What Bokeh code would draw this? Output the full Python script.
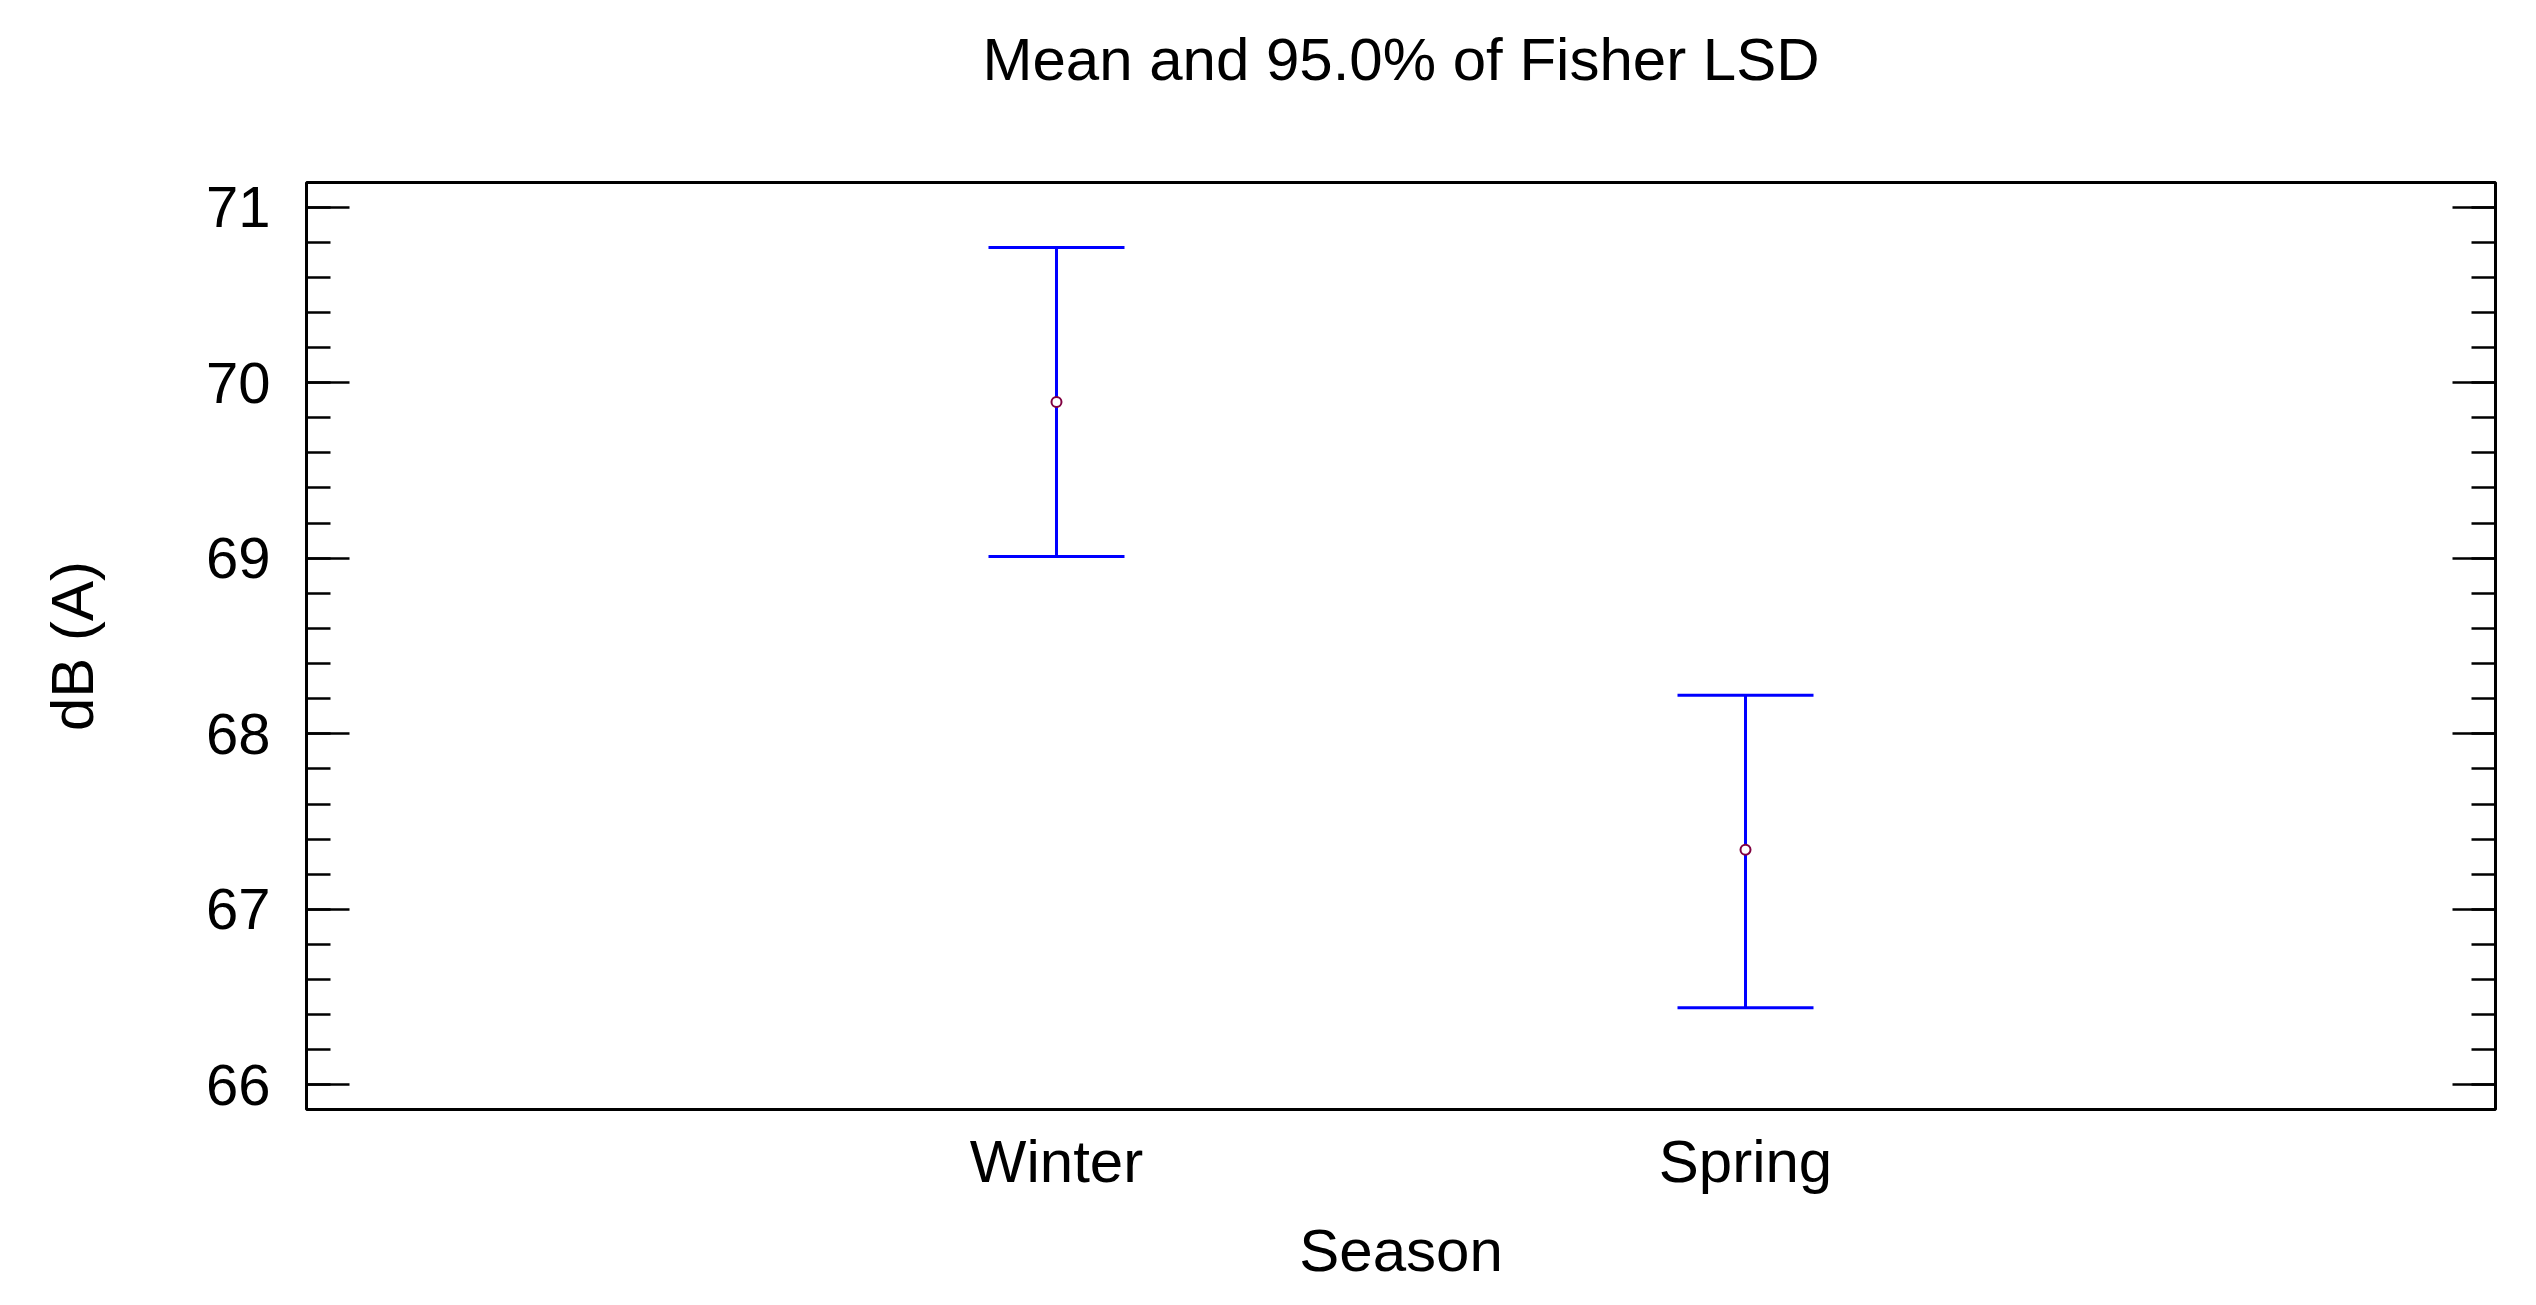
from bokeh.plotting import figure
from bokeh.models import (Range1d, SingleIntervalTicker, FixedTicker, LinearAxis,
                          Whisker, TeeHead, ColumnDataSource, CustomJSTickFormatter)
from bokeh.embed import file_html
from bokeh.resources import INLINE

# ---- data ----
seasons = ["Winter", "Spring"]
means = [69.89, 67.34]
lower = [69.01, 66.44]
upper = [70.77, 68.22]

title_text = "Mean and 95.0% of Fisher LSD"
x_title = "Season"
y_title = "dB (A)"

FONT = "Liberation Sans"

xs = [i + 1 for i in range(len(seasons))]
src = ColumnDataSource(dict(x=xs, mean=means, lower=lower, upper=upper))

p = figure(width=2520, height=1289, output_backend="svg", toolbar_location=None,
           x_range=Range1d(1 - 1.0885, len(seasons) + 1.0885),
           y_range=Range1d(65.86, 71.14),
           min_border_left=306, min_border_right=25, min_border_top=182, min_border_bottom=180)

p.grid.visible = False
p.background_fill_color = "white"
p.border_fill_color = "white"
p.outline_line_color = "black"
p.outline_line_width = 3

# x axis (bottom)
xa = p.below[0]
xa.ticker = FixedTicker(ticks=xs)
xa.major_label_overrides = {x: s for x, s in zip(xs, seasons)}
xa.major_tick_line_color = None
xa.minor_tick_line_color = None
xa.axis_line_color = None
xa.major_label_text_font = FONT
xa.major_label_text_font_size = "60px"
xa.major_label_text_color = "black"
xa.major_label_standoff = 12
xa.axis_label = x_title
xa.axis_label_text_font = FONT
xa.axis_label_text_font_size = "60px"
xa.axis_label_text_font_style = "normal"
xa.axis_label_text_color = "black"
xa.axis_label_standoff = 19

# y axis (left)
ya = p.left[0]
ya.ticker = SingleIntervalTicker(interval=1, num_minor_ticks=5)
ya.axis_line_color = None
ya.major_tick_in = 43
ya.major_tick_out = 0
ya.minor_tick_in = 24
ya.minor_tick_out = 0
ya.major_tick_line_width = 2.5
ya.minor_tick_line_width = 2.5
ya.major_tick_line_color = "black"
ya.minor_tick_line_color = "black"
ya.major_label_text_font = FONT
ya.major_label_text_font_size = "58px"
ya.major_label_text_color = "black"
ya.major_label_standoff = 36
ya.axis_label = y_title
ya.axis_label_text_font = FONT
ya.axis_label_text_font_size = "60px"
ya.axis_label_text_font_style = "normal"
ya.axis_label_text_color = "black"
ya.axis_label_standoff = 97

# title, drawn as the label of a bare axis above the frame
ta = LinearAxis(ticker=FixedTicker(ticks=[]))
ta.axis_line_color = None
ta.major_tick_line_color = None
ta.minor_tick_line_color = None
ta.major_label_standoff = 0
ta.axis_label = title_text
ta.axis_label_text_font = FONT
ta.axis_label_text_font_size = "60px"
ta.axis_label_text_font_style = "normal"
ta.axis_label_text_color = "black"
ta.axis_label_standoff = 90
p.add_layout(ta, "above")

# right axis (ticks only)
ra = LinearAxis(ticker=SingleIntervalTicker(interval=1, num_minor_ticks=5),
                formatter=CustomJSTickFormatter(code="return ''"))
ra.axis_line_color = None
ra.major_tick_in = 43
ra.major_tick_out = 0
ra.minor_tick_in = 24
ra.minor_tick_out = 0
ra.major_tick_line_width = 2.5
ra.minor_tick_line_width = 2.5
ra.major_label_standoff = 0
p.add_layout(ra, "right")

# error bars
w = Whisker(source=src, base="x", lower="lower", upper="upper", dimension="height",
            line_color="#0000FF", line_width=3,
            upper_head=TeeHead(size=136, line_color="#0000FF", line_width=3),
            lower_head=TeeHead(size=136, line_color="#0000FF", line_width=3))
p.add_layout(w)

# means
p.scatter(x="x", y="mean", source=src, marker="circle", size=10,
          fill_color="white", line_color="#800040", line_width=2)

html = file_html(p, INLINE)
open("out.html", "w").write(html)
